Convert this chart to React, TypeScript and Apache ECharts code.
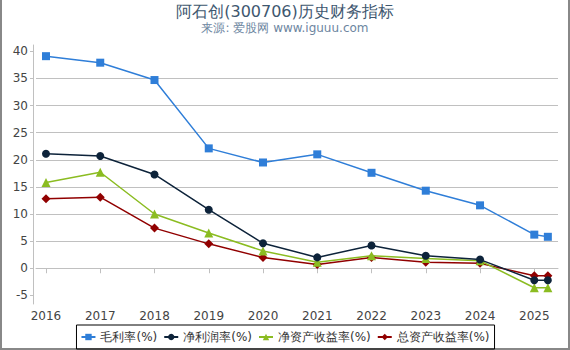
import React, { useEffect, useRef } from "react";
import * as echarts from "echarts";

const xValues = [2016, 2017, 2018, 2019, 2020, 2021, 2022, 2023, 2024, 2025, 2025.25];
const yearTicks = [2016, 2017, 2018, 2019, 2020, 2021, 2022, 2023, 2024, 2025];
const yTicks = [-5, 0, 5, 10, 15, 20, 25, 30, 35, 40];

const grossMargin = [39.1, 37.9, 34.7, 22.1, 19.5, 21.0, 17.6, 14.3, 11.6, 6.2, 5.8];
const netMargin = [21.1, 20.7, 17.3, 10.8, 4.6, 2.0, 4.2, 2.3, 1.6, -2.2, -2.2];
const roe = [15.8, 17.7, 10.0, 6.5, 3.2, 1.1, 2.3, 1.8, 1.4, -3.6, -3.6];
const roa = [12.8, 13.1, 7.4, 4.5, 2.0, 0.7, 2.0, 1.1, 0.9, -1.4, -1.4];

const seriesNames = ["毛利率(%)", "净利润率(%)", "净资产收益率(%)", "总资产收益率(%)"];
const colors = ["#2f7ed8", "#0d233a", "#8bbc21", "#910000"];
const symbols = ["rect", "circle", "triangle", "diamond"];
const symbolSizes = [8, 8, 9, 9];

const FONT = "DejaVu Sans, Verdana, sans-serif";

export default function App() {
  const ref = useRef<HTMLDivElement>(null);
  useEffect(() => {
    if (!ref.current) return;
    const chart = echarts.init(ref.current, null, { renderer: "svg" });
    const all = [grossMargin, netMargin, roe, roa];
    chart.setOption({
      animation: false,
      backgroundColor: "#fff",
      title: {
        text: "阿石创(300706)历史财务指标",
        subtext: "来源: 爱股网 www.iguuu.com",
        left: "center",
        top: -2,
        itemGap: 3,
        textStyle: { fontFamily: FONT, fontSize: 16, fontWeight: "normal", color: "#3e576f" },
        subtextStyle: { fontFamily: FONT, fontSize: 12, color: "#6d869f" },
      },
      grid: { left: 36, right: 12, top: 45, bottom: 46 },
      xAxis: {
        type: "value",
        min: 2015.816,
        max: 2025.437,
        splitLine: { show: false },
        axisLine: { show: true, lineStyle: { color: "#c0c0c0", width: 1 } },
        axisTick: { show: true, customValues: yearTicks, length: 5, lineStyle: { color: "#c0c0c0" } },
        axisLabel: {
          customValues: yearTicks,
          fontFamily: FONT,
          fontSize: 12,
          color: "#444",
          margin: 6,
          formatter: (v: number) => String(Math.round(v)),
        },
      },
      yAxis: {
        type: "value",
        min: -6.59,
        max: 41.16,
        splitNumber: 10,
        offset: 3,
        axisLine: { show: true, lineStyle: { color: "#c0c0c0", width: 1 } },
        axisTick: { show: true, customValues: yTicks, length: 3, lineStyle: { color: "#c0c0c0" } },
        splitLine: { show: true, showMinLine: false, showMaxLine: false, lineStyle: { color: "#c0c0c0", width: 1 } },
        axisLabel: {
          customValues: yTicks,
          fontFamily: FONT,
          fontSize: 12,
          color: "#444",
          margin: 5,
        },
      },
      legend: {
        bottom: 1,
        left: "center",
        borderColor: "#000",
        borderWidth: 1,
        borderRadius: 0,
        padding: [6, 5, 6, 4],
        itemGap: 6,
        itemWidth: 14,
        itemHeight: 8,
        textStyle: { fontFamily: FONT, fontSize: 12, color: "#333" },
        data: seriesNames,
      },
      graphic: [
        { type: "rect", left: 0, top: 0, shape: { width: 2, height: 350 }, style: { fill: "#888" }, silent: true },
        { type: "rect", right: 0, top: 0, shape: { width: 2, height: 350 }, style: { fill: "#888" }, silent: true },
        { type: "rect", left: 0, bottom: 0, shape: { width: 570, height: 2 }, style: { fill: "#888" }, silent: true },
      ],
      series: seriesNames.map((name, i) => ({
        name,
        type: "line",
        data: xValues.map((x, j) => [x, all[i][j]]),
        symbol: symbols[i],
        symbolSize: symbolSizes[i],
        showAllSymbol: true,
        color: colors[i],
        lineStyle: { width: 1.5, color: colors[i] },
        itemStyle: { color: colors[i] },
        z: 10 - i,
      })),
    });
    return () => chart.dispose();
  }, []);
  return (
    <div
      ref={ref}
      style={{ position: "fixed", left: 0, top: 0, width: 570, height: 350 }}
    />
  );
}
